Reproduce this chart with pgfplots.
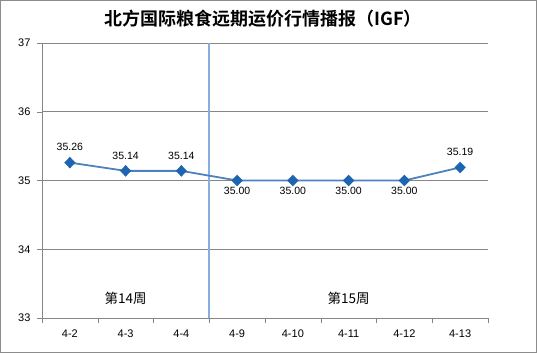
\documentclass[border=0pt]{standalone}
\usepackage{pgfplots}
\pgfplotsset{compat=1.18}
\usepackage{fontspec}
\setmainfont{Liberation Sans}
\newfontfamily\cjk{Noto Sans CJK SC}
\newfontfamily\cjkb{Noto Sans CJK SC Bold}
\definecolor{linec}{HTML}{4F81BD}
\definecolor{markc}{HTML}{1F64B0}
\definecolor{vlinec}{HTML}{86AEDF}
\definecolor{gridc}{HTML}{868686}
\definecolor{framec}{HTML}{8C8C8C}
\begin{document}
\begin{tikzpicture}[x=1pt,y=1pt]
\draw[framec, line width=1pt] (0.5,0.5) rectangle (536.5,352.5);
\node[font=\cjkb\fontsize{18}{20}\selectfont] at (263,334) {北方国际粮食远期运价行情播报（IGF）};
\begin{axis}[
  at={(42pt,35pt)}, anchor=south west,
  scale only axis, width=446pt, height=275pt,
  xmin=-0.5, xmax=7.5, ymin=33, ymax=37,
  xtick={0,...,7},
  xticklabels={4-2,4-3,4-4,4-9,4-10,4-11,4-12,4-13},
  minor xtick={-0.5,0.5,...,7.5},
  ytick={33,34,35,36,37},
  axis lines*=left,
  axis line style={gridc,-},
  major x tick style={draw=none},
  minor x tick style={draw=gridc},
  major y tick style={draw=gridc},
  major tick length=5pt, minor tick length=5pt,
  tick align=outside,
  ymajorgrids, grid style={gridc, line width=0.6pt},
  tick label style={font=\fontsize{11}{13}\selectfont},
  xticklabel style={yshift=-3pt},
  yticklabel style={xshift=-3pt},
  /pgf/number format/assume math mode=true,
  clip=false,
]
\addplot[vlinec, line width=1.6pt] coordinates {(2.5,33) (2.5,37)};
\addplot[linec, line width=1.8pt, mark=diamond*, mark size=4.5pt,
  mark options={fill=markc, draw=markc, xscale=1.3}] coordinates {
  (0,35.26) (1,35.14) (2,35.14) (3,35.00) (4,35.00) (5,35.00) (6,35.00) (7,35.19)};
\addplot[draw=none, mark=none, forget plot,
  nodes near coords, point meta=y,
  nodes near coords style={font=\fontsize{10.5}{12}\selectfont, anchor=south, yshift=8pt,
    /pgf/number format/.cd, fixed, fixed zerofill, precision=2, assume math mode=true}]
  coordinates {(0,35.26) (1,35.14) (2,35.14) (7,35.19)};
\addplot[draw=none, mark=none, forget plot,
  nodes near coords, point meta=y,
  nodes near coords style={font=\fontsize{10.5}{12}\selectfont, anchor=north, yshift=-3pt,
    /pgf/number format/.cd, fixed, fixed zerofill, precision=2, assume math mode=true}]
  coordinates {(3,35.00) (4,35.00) (5,35.00) (6,35.00)};
\node[font=\cjk\fontsize{13.5}{15}\selectfont] at (axis cs:1,33.29) {第14周};
\node[font=\cjk\fontsize{13.5}{15}\selectfont] at (axis cs:5,33.29) {第15周};
\end{axis}
\end{tikzpicture}
\end{document}
